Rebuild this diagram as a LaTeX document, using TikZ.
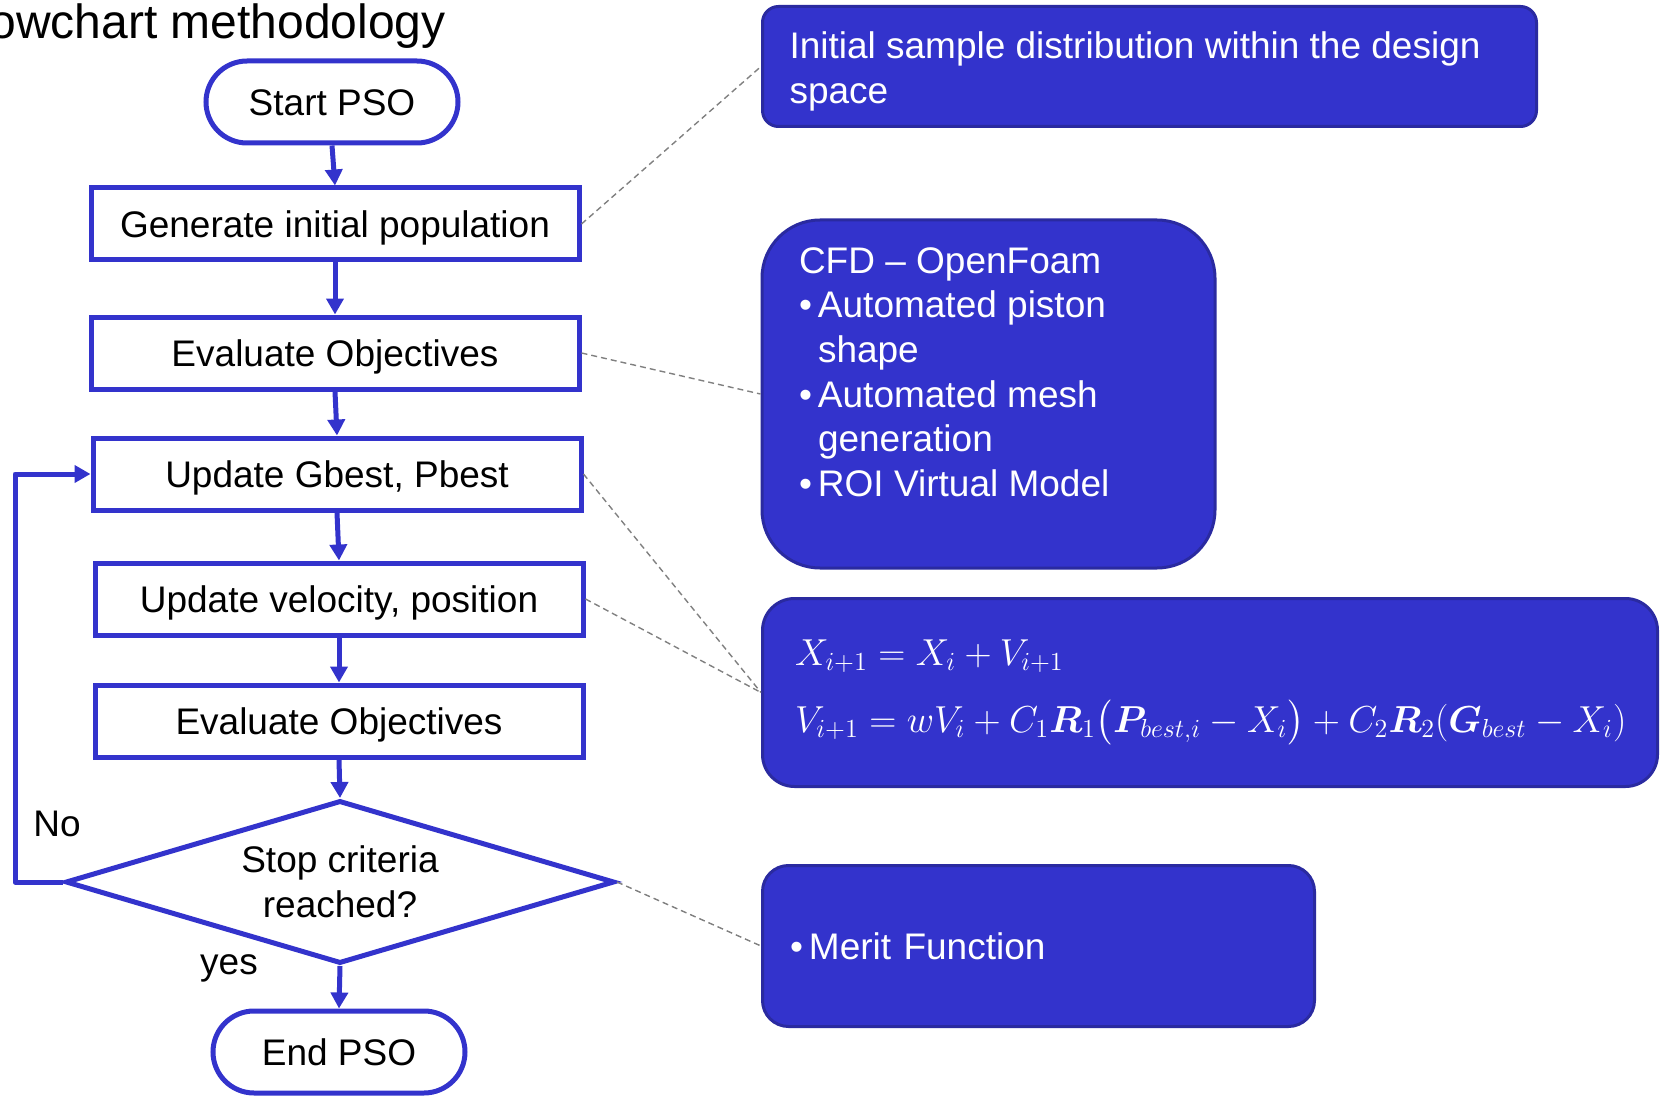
\documentclass[tikz,border=0pt]{standalone}
\usepackage{amsmath,bm,graphicx}
\usepackage{fontspec}
\setmainfont{Liberation Sans}
\usetikzlibrary{shapes.geometric,arrows.meta}
\definecolor{psoblue}{RGB}{51,51,204}
\definecolor{psodark}{RGB}{42,42,160}
\newcommand{\bul}{\makebox[9.5pt][l]{\textbullet}}

\begin{document}
\begin{tikzpicture}[x=0.5pt,y=-0.5pt,
    every node/.style={font=\fontsize{18.5}{22.3}\selectfont},
    proc/.style={draw=psoblue,line width=2.5pt,fill=white,minimum width=244pt,minimum height=36pt,inner sep=0pt,text height=13.3pt,text depth=0pt},
    term/.style={draw=psoblue,line width=2.5pt,fill=white,minimum width=126pt,minimum height=41pt,rounded corners=20.5pt,inner sep=0pt,text height=13.3pt,text depth=0pt},
    dec/.style={draw=psoblue,line width=2.5pt,fill=white,diamond,aspect=3.4,minimum width=274.5pt,minimum height=81.5pt,inner sep=0pt,align=center},
    note/.style={draw=psodark,line width=1.5pt,fill=psoblue,text=white,inner sep=0pt},
    flow/.style={draw=psoblue,line width=2.5pt,line join=round,-{Triangle[length=8pt,width=8.5pt]}},
    link/.style={draw=gray,line width=0.7pt,dash pattern=on 3pt off 2pt}]
            \useasboundingbox (0,0) rectangle (1662,1097);
            \clip (0,0) rectangle (1662,1097);
            \node[anchor=base east,inner sep=0pt,font=\fontsize{24}{28}\selectfont] (title) at (446,39) {owchart methodology};
            % flowchart
            \node[term] (start) at (332,102) {Start PSO};
            \node[proc] (gen) at (335,224) {Generate initial population};
            \node[proc] (eval) at (335,353) {Evaluate Objectives};
            \node[proc] (best) at (337,474) {Update Gbest, Pbest};
            \node[proc] (vel) at (339,599) {Update velocity, position};
            \node[proc] (evaltwo) at (339,721) {Evaluate Objectives};
            \node[dec] (stop) at (340,882) {Stop criteria\\reached?};
            \node[term] (end) at (339,1052) {End PSO};
            \node[anchor=base] (no) at (57,836) {No};
            \node[anchor=base] (yes) at (229,974) {yes};
            \coordinate (back) at (15,882);
            \draw[flow] (start.south) -- (gen.north);
            \draw[flow] (gen.south) -- (eval.north);
            \draw[flow] (eval.south) -- (best.north);
            \draw[flow] (best.south) -- (vel.north);
            \draw[flow] (vel.south) -- (evaltwo.north);
            \draw[flow] (evaltwo.south) -- (stop.north);
            \draw[flow] (stop.south) -- (end.north);
            \draw[flow] (stop.west) -- (back) |- (best.west);
            % notes
            \node[note,rounded corners=8pt,minimum width=387pt,minimum height=60pt] (init) at (1149.5,66.5) {\parbox[c][34.4pt][t]{360pt}{Initial sample distribution within the design\\space}};
            \node[note,rounded corners=29pt,minimum width=226.5pt,minimum height=174pt] (cfd) at (988.5,394) {\parbox[c][146.5pt][t]{189.5pt}{CFD -- OpenFoam\\
                \bul Automated piston\\\hspace*{9.5pt}shape\\
                \bul Automated mesh\\\hspace*{9.5pt}generation\\
                \bul ROI Virtual Model}};
            \node[note,rounded corners=16pt,minimum width=447.5pt,minimum height=94pt,font=\fontsize{17.28}{24}\selectfont] (eqs) at (1210,692.5) {\parbox{415pt}{\scalebox{1.087}{$X_{i+1} = X_i + V_{i+1}$}\\[9.5pt]
                \scalebox{1.087}{$V_{i+1} = wV_i + C_1\bm{R}_1\bigl(\bm{P}_{best,i} - X_i\bigr) + C_2\bm{R}_2(\bm{G}_{best} - X_i)$}}};
            \node[note,rounded corners=13pt,minimum width=276pt,minimum height=80.5pt,text width=248.5pt,align=left] (merit) at (1038.5,946) {\bul Merit Function};
            \draw[link] (gen.east) -- (init.west);
            \draw[link] (eval.east) -- (cfd.west);
            \draw[link] (best.east) -- (eqs.west);
            \draw[link] (vel.east) -- (eqs.west);
            \draw[link] (stop.east) -- (merit.west);
        \end{tikzpicture}
\end{document}
